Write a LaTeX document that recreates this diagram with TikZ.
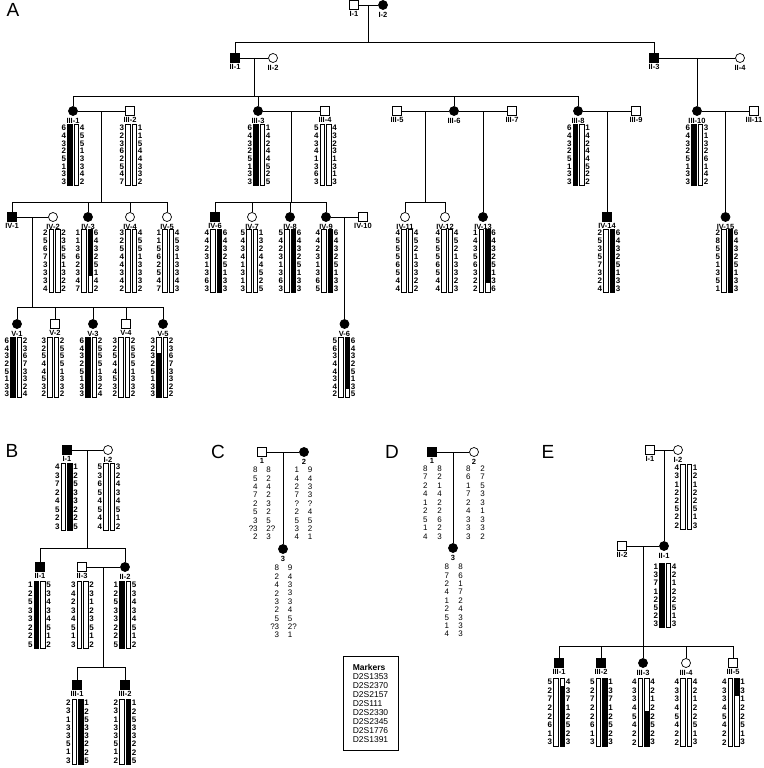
\documentclass[tikz,border=0pt]{standalone}
\usepackage{fontspec}
\setmainfont{Liberation Sans}
\usetikzlibrary{positioning,calc}

\newcount\hapno
% centre x, first row y, row step, left alleles, right alleles,
% black part of left bar (from,to), black part of right bar (from,to)
\newcommand{\haplo}[9]{%
  \global\advance\hapno by 1
  \pgfmathsetmacro{\htop}{#2-0.45*#3}%
  \pgfmathsetmacro{\hlen}{7.9*#3}%
  \pgfmathtruncatemacro{\hbl}{(#7>#6)}%
  \pgfmathtruncatemacro{\hbr}{(#9>#8)}%
  \ifnum\hbl>0 \fill ({#1-5.5},{\htop+#6*\hlen}) rectangle ({#1-1},{\htop+#7*\hlen}); \fi
  \ifnum\hbr>0 \fill ({#1+1},{\htop+#8*\hlen}) rectangle ({#1+5.5},{\htop+#9*\hlen}); \fi
  \draw[hbar] ({#1-5.5},\htop) rectangle ({#1-1},{\htop+\hlen});
  \draw[hbar] ({#1+1},\htop) rectangle ({#1+5.5},{\htop+\hlen});
  \foreach \a [count=\i] in {#4}
    \node[allele, anchor=east] (h\the\hapno l\i) at ({#1-6.5},{#2+(\i-1)*#3}) {\a};
  \foreach \a [count=\i] in {#5}
    \node[allele, anchor=west] (h\the\hapno r\i) at ({#1+6.5},{#2+(\i-1)*#3}) {\a};
}
% one column of alleles without bars
\newcommand{\alcol}[5]{%
  \global\advance\hapno by 1
  \foreach \a [count=\i] in {#5}
    \node[plainallele, anchor=#4] (c\the\hapno n\i) at (#1,{#2+(\i-1)*#3}) {\a};
}
% name, x, y, symbol, label
\newcommand{\person}[5]{%
  \node[#4] (#1) at (#2,#3) {};
  \node[lbl, below=1.8pt of #1] (#1-l) {#5};
}

\begin{document}
\begin{tikzpicture}[x=1pt, y=-1pt, line width=0.7pt,
    male/.style={draw, rectangle, minimum size=8.5pt, inner sep=0},
    female/.style={draw, circle, minimum size=9pt, inner sep=0},
    aff/.style={fill=black},
    lbl/.style={font=\fontsize{7.5}{7.5}\selectfont\bfseries, inner sep=0},
    allele/.style={font=\fontsize{8}{8}\selectfont\bfseries, inner sep=0},
    plainallele/.style={font=\fontsize{8}{8}\selectfont, inner sep=0},
    hbar/.style={line width=0.6pt},
    panel/.style={font=\fontsize{19}{19}\selectfont, inner sep=0}]
\useasboundingbox (0,0) rectangle (763,768);

\node[panel] (pa) at (13,10) {A};
\node[panel] (pb) at (12,451) {B};
\node[panel] (pc) at (218,452) {C};
\node[panel] (pd) at (392,452) {D};
\node[panel] (pe) at (548,452) {E};

%% family A
\person{a-i1}{354}{5}{male}{I-1}
\person{a-i2}{383}{5}{female,aff}{I-2}
\person{a-ii1}{235}{58}{male,aff}{II-1}
\person{a-ii2}{273}{58}{female}{II-2}
\person{a-ii3}{654}{58}{male,aff}{II-3}
\person{a-ii4}{740}{58}{female}{II-4}
\person{a-iii1}{73}{111}{female,aff}{III-1}
\person{a-iii2}{130}{111}{male}{III-2}
\person{a-iii3}{258}{111}{female,aff}{III-3}
\person{a-iii4}{325}{111}{male}{III-4}
\person{a-iii5}{397}{111}{male}{III-5}
\person{a-iii6}{454}{111}{female,aff}{III-6}
\person{a-iii7}{512}{111}{male}{III-7}
\person{a-iii8}{578}{111}{female,aff}{III-8}
\person{a-iii9}{636}{111}{male}{III-9}
\person{a-iii10}{697}{111}{female,aff}{III-10}
\person{a-iii11}{754}{111}{male}{III-11}
\person{a-iv1}{12}{217}{male,aff}{IV-1}
\person{a-iv2}{53}{217}{female}{IV-2}
\person{a-iv3}{88}{217}{female,aff}{IV-3}
\person{a-iv4}{130}{217}{female}{IV-4}
\person{a-iv5}{167}{217}{female}{IV-5}
\person{a-iv6}{215}{217}{male,aff}{IV-6}
\person{a-iv7}{252}{217}{female}{IV-7}
\person{a-iv8}{290}{217}{female,aff}{IV-8}
\person{a-iv9}{326}{217}{female,aff}{IV-9}
\person{a-iv10}{363}{217}{male}{IV-10}
\person{a-iv11}{405}{217}{female}{IV-11}
\person{a-iv12}{445}{217}{female}{IV-12}
\person{a-iv13}{483}{217}{female,aff}{IV-13}
\person{a-iv14}{607}{217}{male,aff}{IV-14}
\person{a-iv15}{725.5}{217}{female,aff}{IV-15}
\person{a-v1}{17}{324}{female,aff}{V-1}
\person{a-v2}{55}{324}{male}{V-2}
\person{a-v3}{93}{324}{female,aff}{V-3}
\person{a-v4}{126}{324}{male}{V-4}
\person{a-v5}{163}{324}{female,aff}{V-5}
\person{a-v6}{344.5}{324}{female,aff}{V-6}

\draw (a-i1) -- (a-i2);
\draw ($(a-i1)!.5!(a-i2)$) -- ++(0,37) coordinate (a-s2);
\draw (a-ii1 |- a-s2) -- (a-ii3 |- a-s2);
\foreach \c in {a-ii1,a-ii3} \draw (\c) -- (\c |- a-s2);
\draw (a-ii1) -- (a-ii2);
\draw ($(a-ii1)!.5!(a-ii2)$) -- ++(0,38) coordinate (a-s3);
\draw (a-iii1 |- a-s3) -- (a-iii8 |- a-s3);
\foreach \c in {a-iii1,a-iii3,a-iii6,a-iii8} \draw (\c) -- (\c |- a-s3);
\draw (a-ii3) -- (a-ii4);
\draw ($(a-ii3)!.5!(a-ii4)$) -- (a-iii10);
\draw (a-iii1) -- (a-iii2);
\draw ($(a-iii1)!.5!(a-iii2)$) -- ++(0,91) coordinate (a-s4a);
\draw (a-iv1 |- a-s4a) -- (a-iv5 |- a-s4a);
\foreach \c in {a-iv1,a-iv3,a-iv4,a-iv5} \draw (\c) -- (\c |- a-s4a);
\draw (a-iii3) -- (a-iii4);
\draw ($(a-iii3)!.5!(a-iii4)$) -- ++(0,91) coordinate (a-s4b);
\draw (a-iv6 |- a-s4b) -- (a-iv9 |- a-s4b);
\foreach \c in {a-iv6,a-iv7,a-iv8,a-iv9} \draw (\c) -- (\c |- a-s4b);
\draw (a-iii5) -- (a-iii6);
\draw (a-iii6) -- (a-iii7);
\draw ($(a-iii5)!.5!(a-iii6)$) -- ++(0,91) coordinate (a-s4c);
\draw (a-iv11 |- a-s4c) -- (a-iv12 |- a-s4c);
\foreach \c in {a-iv11,a-iv12} \draw (\c) -- (\c |- a-s4c);
\draw ($(a-iii6)!.5!(a-iii7)$) -- (a-iv13);
\draw (a-iii8) -- (a-iii9);
\draw ($(a-iii8)!.5!(a-iii9)$) -- (a-iv14);
\draw (a-iii10) -- (a-iii11);
\draw ($(a-iii10)!.5!(a-iii11)$) -- (a-iv15);
\draw (a-iv1) -- (a-iv2);
\draw ($(a-iv1)!.5!(a-iv2)$) -- ++(0,90) coordinate (a-s5);
\draw (a-v1 |- a-s5) -- (a-v5 |- a-s5);
\foreach \c in {a-v1,a-v2,a-v3,a-v4,a-v5} \draw (\c) -- (\c |- a-s5);
\draw (a-iv9) -- (a-iv10);
\draw ($(a-iv9)!.5!(a-iv10)$) -- (a-v6);

\haplo{73}{128}{7.7}{6,4,3,2,5,1,3,3}{4,5,5,1,3,3,4,2}{0}{1}{0}{0}
\haplo{131}{128}{7.7}{3,2,3,6,2,5,4,7}{1,1,5,4,4,3,3,2}{0}{0}{0}{0}
\haplo{259}{128}{7.7}{6,4,3,2,5,1,3,3}{1,4,2,4,4,5,2,5}{0}{1}{0}{0}
\haplo{325.5}{128}{7.7}{5,4,3,4,1,3,6,3}{4,3,2,3,1,3,1,3}{0}{0}{0}{0}
\haplo{578.5}{128}{7.7}{6,4,3,2,5,1,3,3}{1,4,2,4,4,5,2,2}{0}{1}{0}{0}
\haplo{697}{128}{7.7}{6,4,3,2,5,1,3,3}{3,1,3,2,6,1,4,2}{0}{1}{0}{0}

\haplo{54.5}{233}{7.9}{2,5,6,7,3,3,3,4}{2,3,5,5,1,3,2,2}{0}{0}{0}{0}
\haplo{87}{233}{7.9}{1,1,3,6,2,3,4,7}{6,4,3,2,5,1,4,2}{0}{0}{0}{0.75}
\haplo{131}{233}{7.9}{3,2,5,4,4,3,4,2}{4,5,5,1,3,3,3,2}{0}{0}{0}{0}
\haplo{168}{233}{7.9}{1,1,5,6,2,5,4,7}{4,5,3,1,3,3,4,3}{0}{0}{0}{0}
\haplo{216}{233}{7.9}{4,4,2,3,1,3,6,3}{6,4,3,2,5,1,3,3}{0}{0}{0}{1}
\haplo{252}{233}{7.9}{5,4,3,4,1,3,1,3}{1,3,2,4,4,5,2,5}{0}{0}{0}{0}
\haplo{290}{233}{7.9}{5,4,2,3,1,3,6,3}{6,4,3,2,5,1,3,3}{0}{0}{0}{1}
\haplo{327}{233}{7.9}{4,4,2,3,1,3,6,5}{6,4,3,2,5,1,3,3}{0}{0}{0}{1}
\haplo{407}{233}{7.9}{4,5,5,5,6,5,4,4}{4,5,2,1,3,3,2,2}{0}{0}{0}{0}
\haplo{447}{233}{7.9}{4,5,5,5,6,5,4,4}{4,5,2,1,3,3,2,3}{0}{0}{0}{0}
\haplo{484.5}{233}{7.9}{1,4,3,5,6,3,2,2}{6,4,3,2,5,1,3,6}{0}{0}{0}{0.86}
\haplo{609}{233}{7.9}{2,5,3,5,7,3,2,4}{6,4,3,2,5,1,3,3}{0}{0}{0}{1}
\haplo{727}{233}{7.9}{2,8,5,5,1,3,5,1}{6,4,3,2,5,1,3,3}{0}{0}{0}{1}

\haplo{16}{341}{7.6}{6,4,3,2,5,1,3,3}{2,3,6,7,3,3,2,4}{0}{1}{0}{0}
\haplo{53}{341}{7.6}{3,2,5,4,4,5,3,2}{2,5,5,5,1,3,3,2}{0}{0}{0}{0}
\haplo{91}{341}{7.6}{6,4,3,2,5,1,3,3}{2,5,5,5,1,3,2,4}{0}{1}{0}{0}
\haplo{124}{341}{7.6}{3,2,5,4,4,5,3,2}{2,5,5,5,1,3,3,2}{0}{0}{0}{0}
\haplo{162}{341}{7.6}{3,2,3,2,5,1,3,3}{2,3,6,7,3,3,2,2}{0.26}{1}{0}{0}
\haplo{344}{341}{7.6}{5,6,3,4,4,3,4,2}{6,4,3,2,5,1,3,5}{0}{0}{0}{0.86}

%% family B
\person{b-i1}{67}{450}{male,aff}{I-1}
\person{b-i2}{108}{450}{female}{I-2}
\person{b-ii1}{40}{567}{male,aff}{II-1}
\person{b-ii3}{82}{567}{male}{II-3}
\person{b-ii2}{125}{567}{female,aff}{II-2}
\person{b-iii1}{77}{685}{male,aff}{III-1}
\person{b-iii2}{125}{685}{male,aff}{III-2}

\draw (b-i1) -- (b-i2);
\draw ($(b-i1)!.5!(b-i2)$) -- ++(0,98) coordinate (b-s2);
\draw (b-ii1 |- b-s2) -- (b-ii2 |- b-s2);
\foreach \c in {b-ii1,b-ii2} \draw (\c) -- (\c |- b-s2);
\draw (b-ii3) -- (b-ii2);
\draw ($(b-ii3)!.5!(b-ii2)$) -- ++(0,100) coordinate (b-s3);
\draw (b-iii1 |- b-s3) -- (b-iii2 |- b-s3);
\foreach \c in {b-iii1,b-iii2} \draw (\c) -- (\c |- b-s3);

\haplo{66.5}{467}{8.5}{4,3,7,2,4,5,2,3}{1,2,5,3,3,2,2,5}{0}{0}{0}{1}
\haplo{109}{467}{8.5}{5,3,6,5,4,5,4,4}{3,2,4,3,4,5,1,2}{0}{0}{0}{0}
\haplo{39.5}{585}{8.5}{1,2,5,3,3,2,2,5}{5,3,4,3,4,5,1,2}{0}{1}{0}{0}
\haplo{82.5}{585}{8.5}{3,4,2,3,4,5,1,3}{2,3,1,2,3,5,1,2}{0}{0}{0}{0}
\haplo{125}{585}{8.5}{1,2,5,3,3,2,2,5}{5,3,4,3,4,5,1,2}{0}{1}{0}{0}
\haplo{77.5}{703}{8.2}{2,3,1,3,3,5,1,3}{1,2,5,3,3,2,2,5}{0}{0}{0}{1}
\haplo{125}{703}{8.2}{2,3,1,3,3,5,1,2}{1,2,5,3,3,2,2,5}{0}{0}{0}{1}

%% family C
\person{c-1}{262}{452}{male}{1}
\person{c-2}{304}{452}{female,aff}{2}
\person{c-3}{283}{549}{female,aff}{3}
\draw (c-1) -- (c-2);
\draw ($(c-1)!.5!(c-2)$) -- (c-3);
\alcol{258}{470}{8.4}{east}{8,5,4,7,2,5,3,?3,2}
\alcol{266}{470}{8.4}{west}{8,2,4,2,3,2,5,2?,3}
\alcol{299.5}{470}{8.4}{east}{1,4,2,7,?,2,5,3,4}
\alcol{307.5}{470}{8.4}{west}{9,4,3,3,?,4,5,2,1}
\alcol{279.5}{568}{8.4}{east}{8,2,4,2,3,2,5,?3,3}
\alcol{287.5}{568}{8.4}{west}{9,4,3,3,3,4,5,2?,1}

%% family D
\person{d-1}{432}{452}{male,aff}{1}
\person{d-2}{474}{452}{female}{2}
\person{d-3}{453}{548}{female,aff}{3}
\draw (d-1) -- (d-2);
\draw ($(d-1)!.5!(d-2)$) -- (d-3);
\alcol{428}{468.5}{8.5}{east}{8,7,2,4,1,2,5,1,4}
\alcol{437}{468.5}{8.5}{west}{8,2,1,4,2,2,6,2,3}
\alcol{471}{468.5}{8.5}{east}{8,6,1,7,2,4,3,3,3}
\alcol{480}{468.5}{8.5}{west}{2,7,5,3,3,1,3,3,2}
\alcol{449.5}{567}{8.4}{east}{8,7,2,4,1,2,5,1,4}
\alcol{458}{567}{8.4}{west}{8,6,1,7,2,4,3,3,3}

\node[draw, line width=0.6pt, minimum width=55pt, minimum height=94pt,
  align=left, inner sep=0, font=\fontsize{8.5}{9}\selectfont] (markers) at (370.5,703)
  {\textbf{Markers}\\D2S1353\\D2S2370\\D2S2157\\D2S111\\D2S2330\\D2S2345\\D2S1776\\D2S1391};

%% family E
\person{e-i1}{650}{450}{male}{I-1}
\person{e-i2}{678}{450}{female}{I-2}
\person{e-ii2}{622}{546}{male}{II-2}
\person{e-ii1}{664}{546}{female,aff}{II-1}
\person{e-iii1}{559}{663}{male,aff}{III-1}
\person{e-iii2}{601}{663}{male,aff}{III-2}
\person{e-iii3}{643}{663}{female,aff}{III-3}
\person{e-iii4}{686}{663}{female}{III-4}
\person{e-iii5}{733}{663}{male}{III-5}

\draw (e-i1) -- (e-i2);
\draw ($(e-i1)!.5!(e-i2)$) -- (e-ii1);
\draw (e-ii2) -- (e-ii1);
\draw ($(e-ii2)!.5!(e-ii1)$) -- ++(0,100) coordinate (e-s3);
\draw (e-iii1 |- e-s3) -- (e-iii5 |- e-s3);
\foreach \c in {e-iii1,e-iii2,e-iii3,e-iii4,e-iii5} \draw (\c) -- (\c |- e-s3);

\haplo{686}{468}{8.2}{4,3,1,2,2,5,2,2}{1,2,1,2,2,5,1,3}{0}{0}{0}{0}
\haplo{665}{567}{8.1}{1,3,7,1,2,5,2,3}{4,2,1,2,2,5,1,3}{0}{1}{0}{0}
\haplo{559}{682}{8.6}{5,2,7,2,2,6,1,3}{4,3,7,1,2,5,2,3}{0}{0}{0.12}{1}
\haplo{601.5}{682}{8.6}{5,2,7,2,2,6,1,3}{1,3,7,1,2,5,2,3}{0}{0}{0}{1}
\haplo{643.5}{682}{8.6}{4,3,3,4,5,4,2,2}{4,2,1,2,2,5,2,3}{0}{0}{0.49}{1}
\haplo{686}{682}{8.6}{4,3,3,4,5,4,2,2}{4,2,1,2,2,5,1,3}{0}{0}{0}{0}
\haplo{733.5}{682}{8.6}{4,3,3,4,5,4,2,2}{1,3,1,2,2,5,1,3}{0}{0}{0}{0.27}
\end{tikzpicture}
\end{document}
